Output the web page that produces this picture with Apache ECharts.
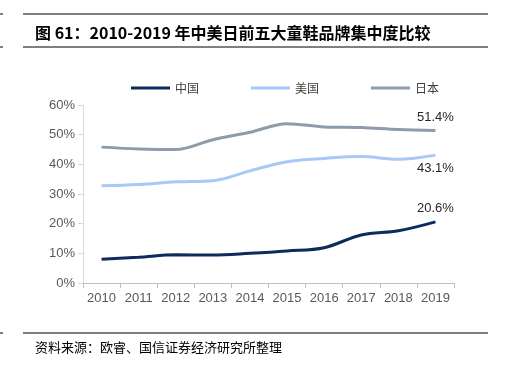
<!DOCTYPE html>
<html><head><meta charset="utf-8">
<script src="https://cdn.jsdelivr.net/npm/echarts@6/dist/echarts.min.js"></script>
<style>html,body{margin:0;padding:0;background:#fff}#c{width:521px;height:378px}</style>
</head><body><div id="c"></div>
<script>
const categories = ['2010','2011','2012','2013','2014','2015','2016','2017','2018','2019'];
const china = [8.0, 8.7, 9.5, 9.4, 10.0, 10.8, 11.9, 16.2, 17.6, 20.6];
const usa = [32.8, 33.2, 34.1, 34.5, 37.8, 40.9, 42.0, 42.6, 41.7, 43.1];
const japan = [45.8, 45.2, 45.0, 48.3, 50.8, 53.7, 52.6, 52.4, 51.7, 51.4];
const seriesNames = ['中国','美国','日本'];
const colors = ['#0d2c5c','#a8c8f7','#8d9bab'];
const labelPos = ['top','bottom','top'];
const chart = echarts.init(document.getElementById('c'));
function mk(vals, i){
  return {
    name: seriesNames[i], type:'line', smooth:0.35, symbol:'circle', symbolSize:0.1, showSymbol:true,
    lineStyle:{width:3, color:colors[i]}, itemStyle:{color:colors[i]},
    label:{show:false},
    data: vals.map((v,k)=> k===vals.length-1 ? {value:v, label:{show:true, position:labelPos[i], distance:7, formatter:v.toFixed(1)+'%', color:'#262626', fontSize:13, fontFamily:'Liberation Sans, Arial'}} : v)
  };
}
const rule = (y)=>({type:'line', shape:{x1:23,y1:y,x2:488,y2:y}, style:{stroke:'#000',lineWidth:1}});
const tick = (y)=>({type:'line', shape:{x1:0,y1:y,x2:3,y2:y}, style:{stroke:'#000',lineWidth:1}});
chart.setOption({
  animation:false,
  color: colors,
  grid:{left:83, right:67, top:105, bottom:95},
  legend:{top:77, left:126, itemWidth:39, itemHeight:3, itemGap:52,
    icon:'rect',
    textStyle:{color:'#404040', fontSize:12, fontFamily:'Noto Sans CJK SC'},
    data: seriesNames},
  xAxis:{type:'category', data:categories, boundaryGap:true,
    axisLine:{lineStyle:{color:'#bfbfbf'}}, axisTick:{show:true, interval:0, lineStyle:{color:'#bfbfbf'}, length:5},
    axisLabel:{interval:0, color:'#595959', fontSize:13, fontFamily:'Liberation Sans, Arial', margin:9}},
  yAxis:{type:'value', min:0, max:60, interval:10,
    axisLine:{show:true, lineStyle:{color:'#d9d9d9'}}, axisTick:{show:true, length:5, lineStyle:{color:'#d9d9d9'}},
    splitLine:{show:false},
    axisLabel:{formatter:'{value}%', color:'#595959', fontSize:13, fontFamily:'Liberation Sans, Arial', margin:8}},
  series:[mk(china,0), mk(usa,1), mk(japan,2)],
  graphic:[
    rule(14), rule(47), rule(333), tick(14), tick(47), tick(333),
    {type:'text', left:35, top:25, style:{text:'图 61：2010-2019 年中美日前五大童鞋品牌集中度比较', fontSize:16, fontWeight:'bold', fill:'#000', fontFamily:'Noto Sans CJK SC'}},
    {type:'text', left:35, top:341, style:{text:'资料来源：欧睿、国信证券经济研究所整理', fontSize:13, fill:'#000', fontFamily:'Noto Sans CJK SC'}}
  ]
});
</script></body></html>
